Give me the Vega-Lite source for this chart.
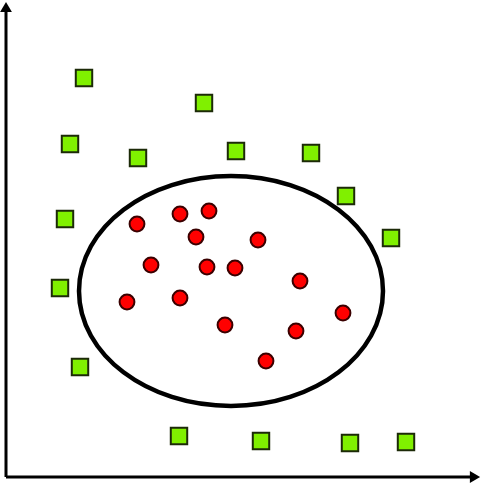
{
  "$schema": "https://vega.github.io/schema/vega-lite/v6.json",
  "width": 482,
  "height": 484,
  "autosize": {"type": "fit", "contains": "padding"},
  "padding": 0,
  "background": "white",
  "config": {"view": {"stroke": null}},
  "resolve": {"scale": {"shape": "independent", "size": "independent", "fill": "independent", "stroke": "independent"}},
  "datasets": {
    "points": [
      {"x": 84, "y": 406, "kind": "green"},
      {"x": 204, "y": 381, "kind": "green"},
      {"x": 70, "y": 340, "kind": "green"},
      {"x": 138, "y": 326, "kind": "green"},
      {"x": 236, "y": 333, "kind": "green"},
      {"x": 311, "y": 331, "kind": "green"},
      {"x": 346, "y": 288, "kind": "green"},
      {"x": 65, "y": 265, "kind": "green"},
      {"x": 391, "y": 246, "kind": "green"},
      {"x": 60, "y": 196, "kind": "green"},
      {"x": 80, "y": 117, "kind": "green"},
      {"x": 179, "y": 48, "kind": "green"},
      {"x": 261, "y": 43, "kind": "green"},
      {"x": 350, "y": 41, "kind": "green"},
      {"x": 406, "y": 42, "kind": "green"},
      {"x": 137, "y": 260, "kind": "red"},
      {"x": 180, "y": 270, "kind": "red"},
      {"x": 209, "y": 273, "kind": "red"},
      {"x": 196, "y": 247, "kind": "red"},
      {"x": 258, "y": 244, "kind": "red"},
      {"x": 151, "y": 219, "kind": "red"},
      {"x": 207, "y": 217, "kind": "red"},
      {"x": 235, "y": 216, "kind": "red"},
      {"x": 300, "y": 203, "kind": "red"},
      {"x": 127, "y": 182, "kind": "red"},
      {"x": 180, "y": 186, "kind": "red"},
      {"x": 343, "y": 171, "kind": "red"},
      {"x": 225, "y": 159, "kind": "red"},
      {"x": 296, "y": 153, "kind": "red"},
      {"x": 266, "y": 123, "kind": "red"}
    ],
    "axes": [
      {"x": 6, "y": 7, "x2": 6, "y2": 476},
      {"x": 6, "y": 7, "x2": 472, "y2": 7}
    ],
    "heads": [
      {"x": 6, "y": 477, "dir": "up"},
      {"x": 475, "y": 7, "dir": "right"}
    ],
    "ellipse": [
      {"x": 231, "y": 193}
    ]
  },
  "layer": [
    {
      "data": {"name": "axes"},
      "mark": {"type": "rule", "color": "black", "strokeWidth": 3},
      "encoding": {
        "x": {"field": "x", "type": "quantitative", "scale": {"domain": [0, 482], "nice": false, "zero": false}, "axis": null},
        "y": {"field": "y", "type": "quantitative", "scale": {"domain": [0, 484], "nice": false, "zero": false}, "axis": null},
        "x2": {"field": "x2"},
        "y2": {"field": "y2"}
      }
    },
    {
      "data": {"name": "heads"},
      "mark": {"type": "point", "filled": true, "color": "black", "size": 140, "opacity": 1},
      "encoding": {
        "x": {"field": "x", "type": "quantitative", "scale": {"domain": [0, 482], "nice": false, "zero": false}, "axis": null},
        "y": {"field": "y", "type": "quantitative", "scale": {"domain": [0, 484], "nice": false, "zero": false}, "axis": null},
        "shape": {"field": "dir", "type": "nominal", "scale": {"domain": ["up", "right"], "range": ["triangle-up", "triangle-right"]}, "legend": null}
      }
    },
    {
      "data": {"name": "ellipse"},
      "mark": {"type": "point", "shape": "M-1,0A1,0.7566 0 1,1 1,0A1,0.7566 0 1,1 -1,0Z", "size": 92416, "filled": false, "stroke": "black", "strokeWidth": 4.5, "opacity": 1},
      "encoding": {
        "x": {"field": "x", "type": "quantitative", "scale": {"domain": [0, 482], "nice": false, "zero": false}, "axis": null},
        "y": {"field": "y", "type": "quantitative", "scale": {"domain": [0, 484], "nice": false, "zero": false}, "axis": null}
      }
    },
    {
      "data": {"name": "points"},
      "mark": {"type": "point", "filled": true, "strokeWidth": 2, "opacity": 1, "strokeOpacity": 1},
      "encoding": {
        "x": {"field": "x", "type": "quantitative", "scale": {"domain": [0, 482], "nice": false, "zero": false}, "axis": null},
        "y": {"field": "y", "type": "quantitative", "scale": {"domain": [0, 484], "nice": false, "zero": false}, "axis": null},
        "shape": {"field": "kind", "type": "nominal", "scale": {"domain": ["green", "red"], "range": ["square", "circle"]}, "legend": null},
        "fill": {"field": "kind", "type": "nominal", "scale": {"domain": ["green", "red"], "range": ["#80f000", "#ff0000"]}, "legend": null},
        "stroke": {"field": "kind", "type": "nominal", "scale": {"domain": ["green", "red"], "range": ["#1c2a08", "#3a0000"]}, "legend": null},
        "size": {"field": "kind", "type": "nominal", "scale": {"domain": ["green", "red"], "range": [270, 220]}, "legend": null}
      }
    }
  ]
}
